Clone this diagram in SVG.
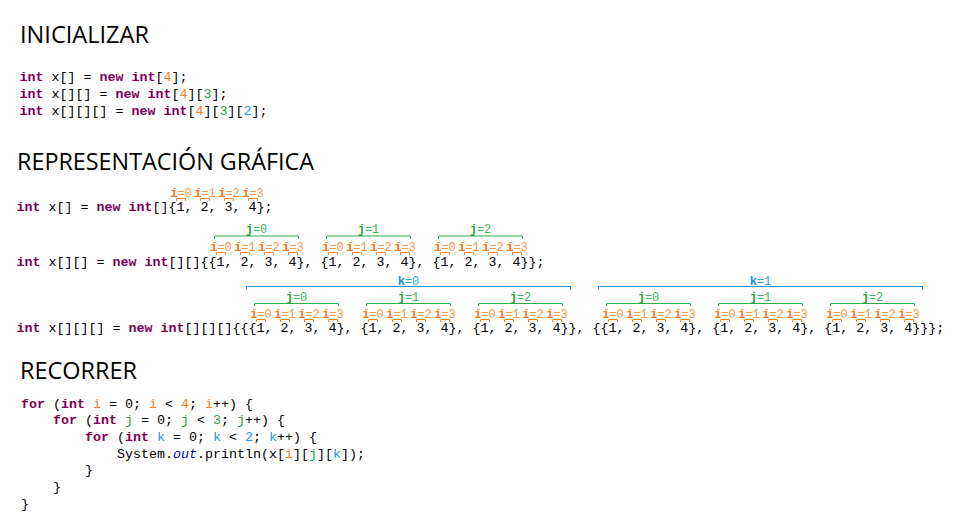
<svg xmlns="http://www.w3.org/2000/svg" xmlns:xlink="http://www.w3.org/1999/xlink" width="965" height="523" viewBox="0 0 965 523">
<style>
.h{font-family:"Open Sans","Liberation Sans",sans-serif;font-size:24px;fill:#000}
.c{font-family:"Liberation Mono","Courier New",monospace;font-size:13.333px;fill:#000}
.k{fill:#7f0055;font-weight:bold}
.o{fill:#f58220}.g{fill:#25a244}.b{fill:#1c9ad6}
.out{fill:#0000c0;font-style:italic}
.l{font-family:"Liberation Mono","Courier New",monospace;font-size:12px;text-anchor:middle}
.ob{fill:#f47920;font-weight:bold}.ol{fill:#f8964a}
.gb{fill:#1f9e3a;font-weight:bold}.gl{fill:#3cb554}
.bb{fill:#1a8fd0;font-weight:bold}.bl{fill:#2aa6e0}
.bo{fill:none;stroke:#f5842a;stroke-width:1}
.bg{fill:none;stroke:#22b04b;stroke-width:1}
.bk{fill:none;stroke:#1e96d8;stroke-width:1}
</style>
<defs>
<path id="ib" class="bo" d="M-4.5 2.5V0H4.5V2.5"/>
</defs>
<rect width="965" height="523" fill="#fff"/>

<g id="inicializar">
<text class="h" x="20" y="42.5" textLength="129" lengthAdjust="spacingAndGlyphs">INICIALIZAR</text>
<text class="c" x="19.5" y="80.5" xml:space="preserve"><tspan class="k">int</tspan> x[] = <tspan class="k">new</tspan> <tspan class="k">int</tspan>[<tspan class="o">4</tspan>];</text>
<text class="c" x="19.5" y="97.5" xml:space="preserve"><tspan class="k">int</tspan> x[][] = <tspan class="k">new</tspan> <tspan class="k">int</tspan>[<tspan class="o">4</tspan>][<tspan class="g">3</tspan>];</text>
<text class="c" x="19.5" y="114.5" xml:space="preserve"><tspan class="k">int</tspan> x[][][] = <tspan class="k">new</tspan> <tspan class="k">int</tspan>[<tspan class="o">4</tspan>][<tspan class="g">3</tspan>][<tspan class="b">2</tspan>];</text>
</g>

<g id="representacion">
<text class="h" x="17" y="169.5" textLength="297" lengthAdjust="spacingAndGlyphs">REPRESENTACIÓN GRÁFICA</text>

<g id="row1">
<text class="c" x="16.5" y="210.5" xml:space="preserve"><tspan class="k">int</tspan> x[] = <tspan class="k">new</tspan> <tspan class="k">int</tspan>[]{1, 2, 3, 4};</text>
<g id="row1-labels">
<text class="l" x="181" y="197"><tspan class="ob">i</tspan><tspan class="ol">=0</tspan></text>
<text class="l" x="205" y="197"><tspan class="ob">i</tspan><tspan class="ol">=1</tspan></text>
<text class="l" x="229" y="197"><tspan class="ob">i</tspan><tspan class="ol">=2</tspan></text>
<text class="l" x="253" y="197"><tspan class="ob">i</tspan><tspan class="ol">=3</tspan></text>
<use href="#ib" x="181" y="198.5"/><use href="#ib" x="205" y="198.5"/><use href="#ib" x="229" y="198.5"/><use href="#ib" x="253" y="198.5"/>
</g>
</g>

<g id="row2">
<text class="c" x="16.5" y="266" xml:space="preserve"><tspan class="k">int</tspan> x[][] = <tspan class="k">new</tspan> <tspan class="k">int</tspan>[][]{{1, 2, 3, 4}, {1, 2, 3, 4}, {1, 2, 3, 4}};</text>
<g id="row2-j">
<path class="bg" d="M214.5 239V236H298.5V239M326.5 239V236H410.5V239M438.5 239V236H522.5V239"/>
<text class="l" x="256.5" y="232.5"><tspan class="gb">j</tspan><tspan class="gl">=0</tspan></text>
<text class="l" x="368.5" y="232.5"><tspan class="gb">j</tspan><tspan class="gl">=1</tspan></text>
<text class="l" x="480.5" y="232.5"><tspan class="gb">j</tspan><tspan class="gl">=2</tspan></text>
</g>
<g id="row2-i">
<text class="l" x="221" y="251"><tspan class="ob">i</tspan><tspan class="ol">=0</tspan></text>
<text class="l" x="245" y="251"><tspan class="ob">i</tspan><tspan class="ol">=1</tspan></text>
<text class="l" x="269" y="251"><tspan class="ob">i</tspan><tspan class="ol">=2</tspan></text>
<text class="l" x="293" y="251"><tspan class="ob">i</tspan><tspan class="ol">=3</tspan></text>
<text class="l" x="333" y="251"><tspan class="ob">i</tspan><tspan class="ol">=0</tspan></text>
<text class="l" x="357" y="251"><tspan class="ob">i</tspan><tspan class="ol">=1</tspan></text>
<text class="l" x="381" y="251"><tspan class="ob">i</tspan><tspan class="ol">=2</tspan></text>
<text class="l" x="405" y="251"><tspan class="ob">i</tspan><tspan class="ol">=3</tspan></text>
<text class="l" x="445" y="251"><tspan class="ob">i</tspan><tspan class="ol">=0</tspan></text>
<text class="l" x="469" y="251"><tspan class="ob">i</tspan><tspan class="ol">=1</tspan></text>
<text class="l" x="493" y="251"><tspan class="ob">i</tspan><tspan class="ol">=2</tspan></text>
<text class="l" x="517" y="251"><tspan class="ob">i</tspan><tspan class="ol">=3</tspan></text>
<use href="#ib" x="221" y="252.5"/><use href="#ib" x="245" y="252.5"/><use href="#ib" x="269" y="252.5"/><use href="#ib" x="293" y="252.5"/>
<use href="#ib" x="333" y="252.5"/><use href="#ib" x="357" y="252.5"/><use href="#ib" x="381" y="252.5"/><use href="#ib" x="405" y="252.5"/>
<use href="#ib" x="445" y="252.5"/><use href="#ib" x="469" y="252.5"/><use href="#ib" x="493" y="252.5"/><use href="#ib" x="517" y="252.5"/>
</g>
</g>

<g id="row3">
<text class="c" x="16.5" y="332" xml:space="preserve"><tspan class="k">int</tspan> x[][][] = <tspan class="k">new</tspan> <tspan class="k">int</tspan>[][][]{{{1, 2, 3, 4}, {1, 2, 3, 4}, {1, 2, 3, 4}}, {{1, 2, 3, 4}, {1, 2, 3, 4}, {1, 2, 3, 4}}};</text>
<g id="row3-k">
<path class="bk" d="M246.5 289.5V286.5H570.5V289.5M598.5 289.5V286.5H922.5V289.5"/>
<text class="l" x="408.5" y="285"><tspan class="bb">k</tspan><tspan class="bl">=0</tspan></text>
<text class="l" x="760.5" y="285"><tspan class="bb">k</tspan><tspan class="bl">=1</tspan></text>
</g>
<g id="row3-j">
<path class="bg" d="M254.5 306V303.5H338.5V306M366.5 306V303.5H450.5V306M478.5 306V303.5H562.5V306M606.5 306V303.5H690.5V306M718.5 306V303.5H802.5V306M830.5 306V303.5H914.5V306"/>
<text class="l" x="296.5" y="300.5"><tspan class="gb">j</tspan><tspan class="gl">=0</tspan></text>
<text class="l" x="408.5" y="300.5"><tspan class="gb">j</tspan><tspan class="gl">=1</tspan></text>
<text class="l" x="520.5" y="300.5"><tspan class="gb">j</tspan><tspan class="gl">=2</tspan></text>
<text class="l" x="648.5" y="300.5"><tspan class="gb">j</tspan><tspan class="gl">=0</tspan></text>
<text class="l" x="760.5" y="300.5"><tspan class="gb">j</tspan><tspan class="gl">=1</tspan></text>
<text class="l" x="872.5" y="300.5"><tspan class="gb">j</tspan><tspan class="gl">=2</tspan></text>
</g>
<g id="row3-i">
<text class="l" x="261" y="318"><tspan class="ob">i</tspan><tspan class="ol">=0</tspan></text>
<text class="l" x="285" y="318"><tspan class="ob">i</tspan><tspan class="ol">=1</tspan></text>
<text class="l" x="309" y="318"><tspan class="ob">i</tspan><tspan class="ol">=2</tspan></text>
<text class="l" x="333" y="318"><tspan class="ob">i</tspan><tspan class="ol">=3</tspan></text>
<text class="l" x="373" y="318"><tspan class="ob">i</tspan><tspan class="ol">=0</tspan></text>
<text class="l" x="397" y="318"><tspan class="ob">i</tspan><tspan class="ol">=1</tspan></text>
<text class="l" x="421" y="318"><tspan class="ob">i</tspan><tspan class="ol">=2</tspan></text>
<text class="l" x="445" y="318"><tspan class="ob">i</tspan><tspan class="ol">=3</tspan></text>
<text class="l" x="485" y="318"><tspan class="ob">i</tspan><tspan class="ol">=0</tspan></text>
<text class="l" x="509" y="318"><tspan class="ob">i</tspan><tspan class="ol">=1</tspan></text>
<text class="l" x="533" y="318"><tspan class="ob">i</tspan><tspan class="ol">=2</tspan></text>
<text class="l" x="557" y="318"><tspan class="ob">i</tspan><tspan class="ol">=3</tspan></text>
<text class="l" x="613" y="318"><tspan class="ob">i</tspan><tspan class="ol">=0</tspan></text>
<text class="l" x="637" y="318"><tspan class="ob">i</tspan><tspan class="ol">=1</tspan></text>
<text class="l" x="661" y="318"><tspan class="ob">i</tspan><tspan class="ol">=2</tspan></text>
<text class="l" x="685" y="318"><tspan class="ob">i</tspan><tspan class="ol">=3</tspan></text>
<text class="l" x="725" y="318"><tspan class="ob">i</tspan><tspan class="ol">=0</tspan></text>
<text class="l" x="749" y="318"><tspan class="ob">i</tspan><tspan class="ol">=1</tspan></text>
<text class="l" x="773" y="318"><tspan class="ob">i</tspan><tspan class="ol">=2</tspan></text>
<text class="l" x="797" y="318"><tspan class="ob">i</tspan><tspan class="ol">=3</tspan></text>
<text class="l" x="837" y="318"><tspan class="ob">i</tspan><tspan class="ol">=0</tspan></text>
<text class="l" x="861" y="318"><tspan class="ob">i</tspan><tspan class="ol">=1</tspan></text>
<text class="l" x="885" y="318"><tspan class="ob">i</tspan><tspan class="ol">=2</tspan></text>
<text class="l" x="909" y="318"><tspan class="ob">i</tspan><tspan class="ol">=3</tspan></text>
<use href="#ib" x="261" y="319.5"/><use href="#ib" x="285" y="319.5"/><use href="#ib" x="309" y="319.5"/><use href="#ib" x="333" y="319.5"/>
<use href="#ib" x="373" y="319.5"/><use href="#ib" x="397" y="319.5"/><use href="#ib" x="421" y="319.5"/><use href="#ib" x="445" y="319.5"/>
<use href="#ib" x="485" y="319.5"/><use href="#ib" x="509" y="319.5"/><use href="#ib" x="533" y="319.5"/><use href="#ib" x="557" y="319.5"/>
<use href="#ib" x="613" y="319.5"/><use href="#ib" x="637" y="319.5"/><use href="#ib" x="661" y="319.5"/><use href="#ib" x="685" y="319.5"/>
<use href="#ib" x="725" y="319.5"/><use href="#ib" x="749" y="319.5"/><use href="#ib" x="773" y="319.5"/><use href="#ib" x="797" y="319.5"/>
<use href="#ib" x="837" y="319.5"/><use href="#ib" x="861" y="319.5"/><use href="#ib" x="885" y="319.5"/><use href="#ib" x="909" y="319.5"/>
</g>
</g>
</g>

<g id="recorrer">
<text class="h" x="20" y="379" textLength="117" lengthAdjust="spacingAndGlyphs">RECORRER</text>
<text class="c" x="21" y="407.5" xml:space="preserve"><tspan class="k">for</tspan> (<tspan class="k">int</tspan> <tspan class="o">i</tspan> = 0; <tspan class="o">i</tspan> &lt; <tspan class="o">4</tspan>; <tspan class="o">i</tspan>++) {</text>
<text class="c" x="53" y="424.2" xml:space="preserve"><tspan class="k">for</tspan> (<tspan class="k">int</tspan> <tspan class="g">j</tspan> = 0; <tspan class="g">j</tspan> &lt; <tspan class="g">3</tspan>; <tspan class="g">j</tspan>++) {</text>
<text class="c" x="85" y="440.8" xml:space="preserve"><tspan class="k">for</tspan> (<tspan class="k">int</tspan> <tspan class="b">k</tspan> = 0; <tspan class="b">k</tspan> &lt; <tspan class="b">2</tspan>; <tspan class="b">k</tspan>++) {</text>
<text class="c" x="117" y="457.5" xml:space="preserve">System.<tspan class="out">out</tspan>.println(x[<tspan class="o">i</tspan>][<tspan class="g">j</tspan>][<tspan class="b">k</tspan>]);</text>
<text class="c" x="85" y="474" xml:space="preserve">}</text>
<text class="c" x="53" y="490.8" xml:space="preserve">}</text>
<text class="c" x="21" y="507.5" xml:space="preserve">}</text>
</g>
</svg>
